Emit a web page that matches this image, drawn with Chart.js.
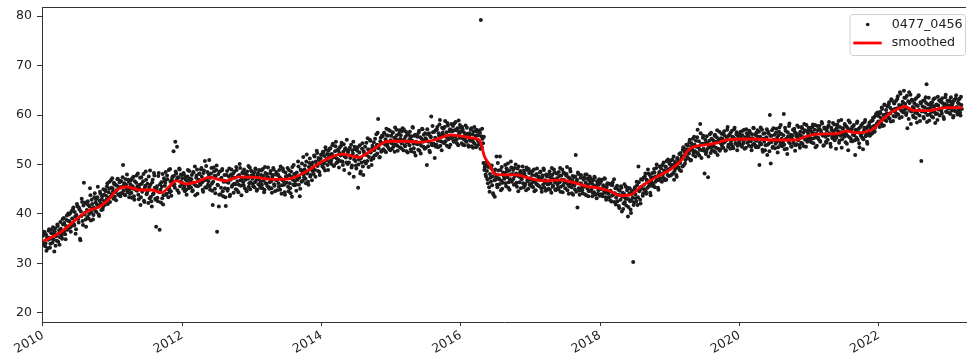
<!DOCTYPE html>
<html><head><meta charset="utf-8">
<script src="https://cdn.jsdelivr.net/npm/chart.js@4/dist/chart.umd.min.js"></script>
<style>html,body{margin:0;padding:0;background:#fff;overflow:hidden}canvas{display:block}</style>
</head><body>
<canvas id="c" width="970" height="363"></canvas>
<script>
const seriesLabel = "0477_0456";
const smoothLabel = "smoothed";
const xTicks = [2010, 2012, 2014, 2016, 2018, 2020, 2022];
const yTicks = [20, 30, 40, 50, 60, 70, 80];
const pointsPerYear = 80;

// first set of readings per year
const v2010 = [35.6,33.9,36.2,34.1,32.6,35.3,34.8,36.9,33.2,35.0,
 36.8,34.2,35.9,32.4,37.1,35.5,34.6,37.6,36.0,33.8,
 38.4,36.1,35.0,37.9,39.2,36.6,34.9,38.8,37.3,40.1,
 39.9,37.2,36.4,40.6,38.1,41.3,37.7,39.5,36.9,42.0,
 41.5,38.3,40.9,34.7,39.6,42.4,37.8,46.3,40.2,38.9,
 42.1,39.4,41.8,40.0,45.2,38.7,42.9,41.1,39.8,43.4,
 40.6,43.0,41.9,45.5,39.9,42.7,44.1,40.8,43.6,41.4,
 43.9,41.8,44.6,42.9,46.2,43.3,45.1,42.4,46.8,44.0];
const v2011 = [45.2,43.1,46.0,44.4,42.8,45.7,47.1,44.0,46.4,43.6,
 46.6,44.2,49.9,45.8,43.9,47.0,45.1,44.6,46.9,43.4,
 44.1,46.8,43.3,45.6,47.5,42.9,45.0,46.3,44.7,48.2,
 43.0,45.9,41.8,47.4,44.5,46.6,42.7,45.3,48.6,44.0,
 46.1,42.2,45.4,48.8,43.5,41.5,46.9,44.2,47.8,43.1,
 37.4,45.6,42.6,48.3,36.8,44.9,46.4,43.2,41.9,47.2,
 45.7,48.5,44.1,47.0,43.4,45.2,49.1,44.6,46.8,47.6,
 52.7,46.0,54.6,48.2,53.6,47.4,44.3,49.0,46.5,47.9];
const v2012 = [47.2,45.1,48.0,44.6,46.9,43.9,47.6,45.8,48.7,46.2,
 45.4,47.9,44.8,48.4,46.0,43.8,47.3,49.0,45.6,46.9,
 48.1,45.9,49.3,46.4,44.5,48.8,50.7,47.0,45.3,48.5,
 46.6,50.9,44.9,48.2,46.1,41.8,49.4,47.7,44.2,48.9,
 36.4,45.8,41.5,48.6,44.0,47.3,49.1,43.6,46.7,45.2,
 41.6,47.9,44.7,46.3,49.2,43.9,48.0,45.5,47.4,44.3,
 48.6,46.0,49.5,44.8,47.7,45.9,50.1,46.8,43.8,48.3,
 46.4,49.0,45.2,48.1,44.6,47.8,49.7,46.2,45.0,48.8];
const v2013 = [48.6,46.1,47.9,45.4,49.2,46.8,44.9,48.3,47.0,45.8,
 46.5,48.8,45.2,47.7,44.4,49.5,46.2,48.1,45.6,47.3,
 45.1,48.2,46.6,44.3,47.9,49.0,45.7,46.9,48.5,44.8,
 48.0,45.5,47.4,49.6,44.1,46.8,48.7,45.9,43.9,47.6,
 46.3,49.3,44.6,47.9,45.2,48.6,43.5,46.9,49.9,45.8,
 48.1,44.7,47.2,50.6,45.9,43.6,49.0,46.5,48.6,51.5,
 47.4,49.8,46.2,52.0,48.5,45.9,50.3,47.6,49.2,46.8,
 50.4,48.1,51.6,47.5,49.9,52.3,48.7,50.9,47.9,51.2];
const v2014 = [51.9,49.6,52.4,50.2,48.8,53.0,51.1,49.9,52.8,50.5,
 53.3,50.8,52.1,54.2,49.7,51.6,53.7,50.3,52.9,51.0,
 49.4,53.5,51.8,54.4,50.6,52.6,48.9,53.1,51.4,55.0,
 50.1,52.9,48.2,51.3,54.0,49.8,52.2,47.5,53.6,50.7,
 49.2,52.8,45.3,51.0,53.9,48.6,50.4,54.3,47.9,52.1,
 53.6,50.2,51.9,55.3,49.5,52.7,54.8,50.9,53.2,51.4,
 54.5,51.8,53.4,56.1,52.2,59.2,53.9,51.5,55.4,52.8,
 55.7,53.1,56.4,54.0,52.5,55.9,53.6,57.0,54.6,52.9];
const v2015 = [55.8,53.2,56.4,54.1,52.6,55.3,57.0,53.8,54.9,56.2,
 53.5,55.9,54.3,57.3,52.9,55.1,53.7,56.6,54.5,52.4,
 56.0,53.9,55.4,52.7,54.8,57.4,53.3,55.8,51.8,54.2,
 55.6,53.0,56.8,54.4,52.2,55.2,57.1,53.6,54.9,56.3,
 53.4,49.9,56.1,54.6,52.8,55.7,59.7,53.9,56.5,54.2,
 51.3,56.9,54.0,57.6,53.5,55.8,59.0,54.7,52.9,56.4,
 57.2,54.3,58.8,55.6,53.8,57.9,55.1,56.7,54.0,58.2,
 55.3,57.8,54.6,56.9,58.6,55.0,57.3,53.9,56.2,58.0];
const v2016 = [56.6,54.3,57.1,55.2,53.9,56.0,54.7,57.4,55.5,53.6,
 56.3,54.8,57.3,55.0,53.4,56.7,54.2,55.8,57.0,53.8,
 55.9,54.1,56.4,79.2,53.5,55.2,50.3,48.9,49.8,47.6,
 48.7,46.2,50.1,44.5,47.3,49.2,45.8,44.2,48.4,43.5,
 46.9,51.6,45.4,48.8,47.0,51.6,44.8,49.5,46.3,48.2,
 47.1,49.9,45.6,48.6,50.2,46.4,44.9,48.0,49.4,46.8,
 48.9,45.9,47.7,50.0,46.3,49.2,44.6,47.5,48.4,45.2,
 47.0,49.6,45.4,48.2,46.1,44.8,48.9,46.6,49.1,45.9];
const v2017 = [48.5,46.2,47.9,45.4,49.0,46.6,44.8,48.1,45.9,47.4,
 45.6,48.4,46.9,44.5,47.8,49.2,45.3,46.8,48.0,44.9,
 47.6,45.1,48.6,46.2,44.3,47.9,45.7,49.0,46.4,44.8,
 48.2,46.0,45.0,47.7,49.3,45.5,46.9,44.4,48.4,46.3,
 45.2,47.8,49.5,46.0,44.1,47.2,48.6,45.4,46.8,43.9,
 47.4,45.0,51.9,46.6,41.3,48.1,44.7,46.2,47.9,45.3,
 44.2,46.9,45.5,48.0,43.8,47.1,45.9,44.6,47.6,46.3,
 45.0,43.6,46.8,44.4,47.3,45.6,43.2,46.1,44.8,47.0];
const v2018 = [46.3,44.0,46.9,43.6,45.5,47.2,44.3,42.9,45.9,44.6,
 43.4,46.1,44.7,42.5,45.8,43.9,47.0,44.2,41.9,45.3,
 42.6,44.9,41.2,43.8,45.6,40.5,44.3,42.1,46.0,43.2,
 41.7,44.8,39.5,43.0,45.2,40.9,42.8,44.1,30.3,42.3,
 45.4,43.2,46.5,41.8,49.6,44.6,42.9,47.0,45.1,43.7,
 47.3,45.0,48.2,44.1,46.7,49.0,45.6,47.9,43.8,46.4,
 48.3,46.0,49.1,45.4,47.6,50.0,46.8,44.9,48.5,47.2,
 49.2,46.5,48.0,50.4,47.1,49.6,46.9,48.7,51.0,47.7];
const v2019 = [50.1,47.8,49.6,51.0,48.3,46.9,50.5,49.2,47.5,51.3,
 49.4,52.1,50.3,48.7,51.6,53.0,49.8,52.6,50.9,54.0,
 51.5,53.8,52.2,55.0,50.8,54.3,53.1,51.9,55.6,52.7,
 54.8,52.4,57.0,53.5,51.8,58.2,54.1,52.9,55.4,53.2,
 48.2,55.0,52.6,54.4,47.4,53.8,56.1,52.3,55.2,53.6,
 54.9,52.7,56.0,53.4,55.5,51.9,54.6,56.6,53.1,55.3,
 53.8,56.2,54.4,55.9,52.8,54.9,57.0,53.6,55.8,54.1,
 56.4,54.0,55.6,53.3,57.1,55.0,54.2,56.5,53.8,55.9];
const v2020 = [56.2,54.0,55.7,53.6,56.8,54.9,53.2,55.5,57.1,54.4,
 55.9,53.8,56.5,54.7,52.9,55.3,57.4,54.2,56.0,53.5,
 54.8,56.9,53.7,49.9,55.6,54.1,57.0,52.6,55.2,56.3,
 53.9,55.5,51.9,56.6,54.3,60.0,50.2,55.8,53.4,57.3,
 55.0,53.3,56.4,54.6,52.4,55.9,57.5,54.0,56.2,53.7,
 54.5,60.2,53.1,56.8,55.2,52.1,55.7,57.8,54.3,56.0,
 53.6,55.9,54.8,57.2,52.8,56.3,54.1,55.4,57.6,53.9,
 56.6,54.4,57.3,55.5,53.7,56.9,55.1,58.0,54.6,56.2];
const v2021 = [57.0,54.9,56.8,55.2,57.6,54.3,56.1,58.0,55.5,53.8,
 56.9,55.1,57.8,54.6,56.4,58.3,55.8,53.9,57.2,55.6,
 54.4,57.5,55.9,58.6,56.2,53.6,57.0,55.3,56.7,58.1,
 55.7,53.2,57.4,56.0,58.8,54.8,56.5,59.0,55.1,57.3,
 56.3,58.2,54.5,57.7,55.8,52.9,56.9,58.5,55.2,57.1,
 54.7,57.8,55.9,51.9,56.6,58.4,55.0,57.2,53.5,56.2,
 57.9,55.4,53.1,56.8,58.6,55.7,57.3,54.2,56.4,58.0,
 55.8,57.6,56.2,58.9,56.9,59.6,57.4,60.2,58.3,59.9];
const v2022 = [59.8,57.6,60.4,58.3,61.2,59.1,57.9,62.0,60.1,58.8,
 61.7,59.5,62.6,60.3,58.7,63.0,61.0,59.8,62.3,60.6,
 62.9,60.2,63.8,61.4,59.4,64.3,61.9,60.7,62.5,64.9,
 61.1,63.5,60.4,57.3,62.8,64.6,60.9,58.2,63.1,61.6,
 59.6,62.3,60.5,63.4,58.5,61.8,64.0,59.9,62.6,50.7,
 60.8,62.9,59.3,61.5,63.6,66.2,60.0,62.1,58.9,61.3,
 62.4,59.7,61.8,63.2,60.6,58.4,62.0,60.3,63.7,61.1,
 59.9,62.7,60.8,63.4,61.5,59.2,62.2,64.1,60.6,62.9];
const v2023 = [62.8,60.4,61.9,63.6,60.9,62.3,59.8,63.1,61.4,64.0,60.6,62.5,61.0,63.3,59.9,62.0];

// second set of readings per year (between the first ones)
const w2010 = [34.2,36.4,33.5,35.8,34.9,33.1,36.6,35.2,34.0,36.1,
 35.1,37.3,34.8,36.5,33.6,35.8,37.9,34.4,36.7,35.3,
 37.0,35.6,39.0,36.3,38.2,35.9,37.6,39.7,36.8,38.6,
 38.5,40.2,37.5,39.1,41.0,38.0,40.4,36.0,39.8,41.6,
 39.0,41.2,35.0,40.5,43.1,38.6,41.7,39.9,42.3,37.4,
 40.8,42.6,39.1,41.5,43.8,40.3,42.0,38.9,41.3,44.2,
 42.3,40.4,43.4,41.6,39.6,44.5,42.1,43.0,40.9,45.0,
 42.6,44.9,43.7,45.6,42.0,44.4,46.5,43.5,45.3,47.2];
const w2011 = [44.6,46.3,43.5,45.9,44.8,47.0,43.9,45.4,46.7,44.2,
 45.5,47.4,44.7,46.2,43.8,45.9,48.0,44.4,46.5,45.0,
 46.0,44.3,47.2,45.1,43.6,46.6,44.9,47.8,45.6,43.9,
 45.2,47.3,43.4,46.1,44.8,48.1,42.4,45.7,46.9,44.3,
 44.7,47.6,43.2,45.9,42.6,46.4,44.0,48.3,45.3,42.9,
 45.1,43.3,47.7,44.4,46.0,42.3,45.5,48.1,43.8,46.7,
 46.3,43.9,47.8,45.0,48.9,44.4,46.5,43.7,47.3,45.8,
 47.7,45.3,48.6,46.9,44.8,47.3,49.2,45.6,48.0,46.4];
const w2012 = [46.0,48.3,45.5,47.4,44.9,46.7,48.9,45.2,47.1,46.4,
 47.0,44.6,48.5,46.3,49.6,45.7,47.8,44.1,46.8,48.2,
 46.2,49.0,47.5,44.9,48.3,46.8,45.4,49.7,47.2,45.9,
 48.0,45.6,47.3,49.3,44.7,46.5,48.6,45.1,47.7,49.8,
 45.9,48.1,43.9,47.0,45.3,48.8,44.6,46.5,47.9,43.4,
 46.5,48.7,45.1,47.6,43.6,46.9,49.0,45.8,48.2,46.1,
 47.3,45.0,48.9,46.6,44.4,47.9,49.3,45.7,47.0,48.5,
 45.8,48.2,46.9,44.9,48.6,47.1,45.5,49.4,46.4,47.8];
const w2013 = [47.1,45.6,48.4,46.4,49.0,44.7,47.8,46.0,48.9,45.3,
 47.9,45.9,49.1,46.7,44.9,48.3,46.1,47.5,49.4,45.4,
 46.4,48.7,45.2,47.6,49.3,46.0,44.6,48.0,46.8,47.9,
 46.2,48.9,44.9,47.1,45.8,49.2,46.6,44.4,48.4,47.3,
 47.7,45.5,48.9,46.2,44.2,47.5,49.5,45.9,48.1,46.6,
 45.9,48.4,46.9,49.6,47.3,45.1,48.8,50.2,46.7,48.0,
 49.0,47.1,50.6,48.2,46.5,49.5,51.2,47.9,50.0,48.7,
 49.3,51.8,48.9,50.6,52.8,49.7,51.3,48.5,50.2,52.0];
const w2014 = [50.4,52.6,49.3,51.7,53.5,50.8,52.1,48.9,51.5,53.2,
 52.0,50.1,53.9,51.4,49.8,52.7,54.6,51.2,50.5,53.0,
 52.3,50.7,53.8,52.0,49.9,54.1,51.6,53.3,50.4,52.8,
 52.5,50.4,53.4,51.7,49.4,52.9,54.6,51.0,53.1,49.8,
 51.7,53.5,50.0,52.4,48.2,51.3,53.2,49.6,52.7,50.6,
 52.0,54.4,50.7,53.1,51.5,55.0,52.4,49.9,53.8,51.2,
 52.9,55.2,51.9,54.0,56.4,53.3,51.4,54.7,52.6,55.8,
 54.3,56.2,52.8,55.1,57.2,54.0,55.8,53.2,56.8,54.9];
const w2015 = [54.3,56.5,53.6,55.4,57.5,54.0,55.9,52.8,54.7,56.9,
 55.2,53.3,56.7,54.8,57.1,53.9,55.6,52.7,56.1,54.4,
 54.9,56.6,53.1,55.7,57.6,54.2,52.4,56.0,54.6,55.9,
 54.1,56.4,52.8,55.5,53.8,57.2,54.6,56.0,53.2,55.3,
 55.0,57.1,53.7,56.3,52.5,55.5,54.2,57.8,53.9,56.6,
 55.4,53.6,57.0,54.8,56.3,58.1,53.8,55.9,57.4,54.5,
 55.9,57.6,54.7,56.5,58.4,55.3,53.5,57.1,55.8,56.9,
 56.7,54.8,58.3,55.6,57.0,54.3,56.8,58.9,55.4,57.5];
const w2016 = [55.4,57.6,54.0,56.5,55.0,57.9,54.6,56.2,53.9,55.8,
 55.0,57.0,53.7,56.1,54.5,57.6,55.3,53.5,56.6,54.9,
 54.7,56.9,53.2,55.7,57.2,54.3,55.6,49.4,48.0,50.5,
 47.0,49.5,45.4,48.1,46.5,49.8,47.6,43.9,46.8,49.0,
 47.5,45.9,50.3,47.2,46.0,48.9,46.7,45.1,48.4,47.6,
 48.3,46.2,49.2,47.4,45.3,48.8,47.0,50.6,46.5,48.1,
 47.1,49.3,46.0,48.2,45.5,47.8,49.6,46.4,48.7,47.3,
 48.1,46.2,48.8,45.7,47.6,49.4,46.8,45.1,48.3,47.2];
const w2017 = [47.0,45.6,48.7,46.5,44.6,47.8,46.1,49.2,45.8,47.5,
 46.8,48.6,45.2,47.4,45.9,48.9,46.3,44.7,47.7,46.0,
 46.0,48.1,44.9,47.3,49.3,45.5,47.0,48.4,45.0,46.7,
 47.2,45.3,48.5,46.4,44.5,47.8,49.0,45.8,46.9,48.2,
 46.5,48.1,44.8,47.4,45.6,49.1,46.2,44.2,47.7,45.9,
 45.8,47.6,44.5,46.9,48.4,45.2,43.9,47.3,46.1,44.8,
 45.6,47.4,44.0,46.3,48.0,45.1,43.6,46.8,44.7,47.1,
 46.2,44.3,45.8,47.5,43.9,45.4,46.6,44.1,45.9,43.7];
const w2018 = [45.0,46.7,43.9,45.8,44.5,47.1,43.4,45.4,46.2,44.1,
 44.5,42.8,45.9,43.7,46.4,44.0,42.4,45.2,43.3,45.7,
 43.9,41.6,44.7,42.9,45.3,43.5,41.0,44.1,42.4,45.5,
 43.1,45.3,41.4,44.2,42.6,40.2,44.7,43.3,41.8,45.0,
 44.0,42.5,45.8,43.4,46.4,44.9,42.1,45.5,46.9,44.2,
 45.9,47.6,44.6,46.9,45.3,48.2,46.1,44.3,47.3,45.7,
 47.4,45.6,48.4,46.5,49.3,47.0,45.3,48.0,49.6,46.7,
 48.1,49.9,47.3,48.8,46.8,49.5,50.7,47.9,49.0,50.3];
const w2019 = [49.2,50.8,48.0,49.9,51.6,48.7,50.2,47.9,51.1,49.5,
 50.7,48.9,52.3,51.2,49.6,53.5,51.8,50.2,53.1,52.4,
 53.0,51.2,54.5,52.9,50.9,53.7,55.2,52.5,54.0,51.6,
 53.6,55.5,52.2,54.7,53.0,56.3,51.3,54.2,55.8,52.8,
 54.3,52.1,55.7,53.2,51.6,54.8,53.5,56.4,52.9,54.1,
 53.7,55.8,52.5,54.6,56.9,53.2,55.1,52.8,54.3,56.2,
 55.2,53.4,56.7,54.6,52.9,55.5,57.6,54.0,56.0,53.2,
 54.7,56.8,53.6,55.4,57.4,54.3,56.1,52.9,55.7,54.5];
const w2020 = [54.8,56.6,53.9,55.9,54.3,57.0,55.2,53.4,56.3,55.6,
 54.6,56.8,55.3,53.6,56.1,54.0,57.3,55.0,53.8,56.4,
 55.7,53.5,56.6,54.4,57.5,55.1,53.0,56.2,54.6,52.9,
 55.3,57.1,54.0,56.3,52.7,55.8,54.5,56.9,53.6,55.0,
 56.0,54.2,57.2,55.4,53.5,56.6,54.7,58.0,55.2,53.9,
 55.9,54.0,57.4,55.1,53.2,56.5,54.6,58.3,55.5,53.7,
 55.2,57.0,54.3,56.6,53.9,55.7,57.9,54.9,56.1,53.4,
 55.8,57.6,54.2,56.4,58.2,55.0,53.6,56.7,55.3,57.4];
const w2021 = [55.6,57.4,54.5,56.5,58.1,55.3,57.0,53.5,56.2,57.8,
 55.4,57.1,54.8,56.9,58.6,55.9,53.8,57.5,56.1,54.6,
 56.8,55.0,57.9,56.3,54.2,57.4,55.6,58.4,56.0,54.9,
 57.0,55.4,58.1,56.7,54.4,57.6,55.8,53.4,57.2,56.1,
 55.6,57.9,56.2,54.2,57.3,58.9,55.5,56.8,54.7,57.6,
 56.0,58.0,54.9,57.0,55.4,58.7,56.5,54.3,57.5,55.8,
 56.2,58.3,55.1,57.4,59.0,56.0,54.6,57.7,55.9,58.5,
 57.0,58.8,56.3,59.4,57.8,56.6,59.9,58.1,60.5,58.7];
const w2022 = [58.3,60.6,59.4,61.5,57.8,60.0,62.1,59.0,61.0,60.3,
 60.2,62.1,59.3,61.4,63.2,60.8,58.8,62.4,61.2,59.7,
 61.3,63.3,60.1,62.0,64.6,61.0,59.6,62.7,60.5,63.5,
 62.2,60.0,63.9,61.3,59.2,62.4,64.1,60.7,62.9,59.9,
 61.4,63.1,59.4,62.0,60.3,63.8,61.0,58.8,62.3,60.7,
 61.7,59.6,63.0,60.5,62.4,58.6,61.2,63.5,60.1,62.0,
 60.6,62.6,59.5,61.6,63.4,60.2,62.1,59.0,61.9,63.0,
 61.2,63.0,60.3,62.4,59.6,61.8,63.6,60.7,62.0,61.4];
const w2023 = [61.3,63.0,60.2,62.6,61.7,59.5,62.9,60.8,63.4,61.6,60.1,63.1,62.2,60.5,63.7,61.2];

const smoothX = [2010.0,2010.24,2010.53,2010.67,2010.79,2010.96,2011.05,2011.2,2011.39,2011.57,2011.7,2011.81,2011.91,2012.05,2012.21,2012.39,2012.62,2012.81,2013.05,2013.29,2013.53,2013.77,2014.05,2014.29,2014.39,2014.53,2014.72,2014.96,2015.2,2015.39,2015.62,2015.86,2016.15,2016.27,2016.34,2016.41,2016.48,2016.6,2016.81,2016.96,2017.2,2017.43,2017.58,2017.81,2018.0,2018.15,2018.29,2018.43,2018.58,2018.67,2018.81,2019.0,2019.15,2019.29,2019.48,2019.67,2019.81,2020.19,2020.53,2020.81,2020.96,2021.1,2021.43,2021.53,2021.67,2021.91,2022.05,2022.2,2022.39,2022.48,2022.72,2022.96,2023.2];
const smoothY = [34.5,36.2,39.5,40.8,41.3,43.2,44.7,45.5,44.85,44.85,44.3,45.5,46.7,46.1,46.5,47.4,46.7,47.5,47.4,47.0,47.1,48.5,50.9,52.1,51.9,51.45,52.9,54.7,54.7,54.5,54.95,56.0,55.4,54.9,51.6,50.0,48.2,47.9,47.9,47.3,46.7,46.9,46.5,45.6,45.2,44.6,43.7,43.8,45.5,46.3,47.5,48.9,50.6,53.2,53.9,54.3,54.95,55.15,54.95,54.95,55.7,56.1,56.3,56.8,56.4,57.1,59.0,60.7,61.7,61.0,60.9,61.5,61.5];

const yearly = [[2010,v2010,w2010],[2011,v2011,w2011],[2012,v2012,w2012],[2013,v2013,w2013],[2014,v2014,w2014],[2015,v2015,w2015],[2016,v2016,w2016],[2017,v2017,w2017],[2018,v2018,w2018],[2019,v2019,w2019],[2020,v2020,w2020],[2021,v2021,w2021],[2022,v2022,w2022],[2023,v2023,w2023]];
const scatterPts = yearly.flatMap(([yr, a, b]) => [
  ...a.map((v, i) => ({x: yr + i / pointsPerYear, y: v})),
  ...b.map((v, i) => ({x: yr + (i + 0.5) / pointsPerYear, y: v}))
]);
const smoothPts = smoothX.map((x, i) => ({x, y: smoothY[i]}));

Chart.defaults.font.family = '"DejaVu Sans", sans-serif';
Chart.defaults.font.size = 12;
Chart.defaults.color = '#222';

const frameAndLegend = {
  id: 'frameAndLegend',
  afterDraw(chart) {
    const {ctx, chartArea: a} = chart;
    ctx.save();
    ctx.strokeStyle = '#333';
    ctx.lineWidth = 1;
    ctx.beginPath();
    ctx.moveTo(a.left, a.top + 0.5);
    ctx.lineTo(a.right, a.top + 0.5);
    ctx.stroke();
    const right = a.right - 1, top = a.top + 7, w = 115.5, h = 41;
    const left = right - w;
    ctx.beginPath();
    ctx.roundRect(left + 0.5, top + 0.5, w, h, 3);
    ctx.fillStyle = 'rgba(255,255,255,0.85)';
    ctx.fill();
    ctx.strokeStyle = '#d0d0d0';
    ctx.stroke();
    const ds = chart.data.datasets;
    const sc = ds.find(d => d.label === seriesLabel);
    const sm = ds.find(d => d.label === smoothLabel);
    ctx.fillStyle = sc.backgroundColor;
    ctx.beginPath();
    ctx.arc(left + 18.2, top + 10.5, 1.8, 0, Math.PI * 2);
    ctx.fill();
    ctx.strokeStyle = sm.borderColor;
    ctx.lineWidth = sm.borderWidth;
    ctx.beginPath();
    ctx.moveTo(left + 3.8, top + 29);
    ctx.lineTo(left + 32.2, top + 29);
    ctx.stroke();
    ctx.font = '12.7px "DejaVu Sans"';
    ctx.fillStyle = '#222';
    ctx.textBaseline = 'middle';
    ctx.textAlign = 'left';
    ctx.fillText(sc.label, left + 42.2, top + 10.5);
    ctx.fillText(sm.label, left + 42.2, top + 29);
    ctx.restore();
  }
};

new Chart(document.getElementById('c'), {
  type: 'scatter',
  data: {
    datasets: [
      {label: smoothLabel, data: smoothPts, showLine: true, borderColor: '#ff0000', backgroundColor: '#ff0000', borderWidth: 2.8, pointRadius: 0, cubicInterpolationMode: 'monotone', order: 0},
      {label: seriesLabel, data: scatterPts, backgroundColor: '#1c1c1c', borderWidth: 0, pointRadius: 2.0, order: 1}
    ]
  },
  options: {
    responsive: false,
    animation: false,
    devicePixelRatio: 1,
    layout: {padding: {top: 7, left: 0, right: 0, bottom: 0}},
    plugins: {legend: {display: false}, tooltip: {enabled: false}},
    scales: {
      x: {
        type: 'linear', position: 'bottom', min: 2009.986, max: 2023.254,
        grid: {drawOnChartArea: false, drawTicks: true, tickLength: 4, tickColor: '#333'},
        border: {display: true, color: '#333', width: 1},
        ticks: {minRotation: 30, maxRotation: 30, autoSkip: false, padding: 2, font: {size: 12.5}, callback: v => String(v)},
        afterBuildTicks: s => { s.ticks = xTicks.map(v => ({value: v})); },
        afterFit: s => { s.height = 41; s.paddingLeft = 0; s.paddingRight = 0; }
      },
      y: {
        type: 'linear', position: 'left', min: 18.18, max: 81.82,
        grid: {drawOnChartArea: false, drawTicks: true, tickLength: 5, tickColor: '#333'},
        border: {display: true, color: '#333', width: 1},
        ticks: {padding: 5, font: {size: 12.5}, callback: v => String(v)},
        afterBuildTicks: s => { s.ticks = yTicks.map(v => ({value: v})); },
        afterFit: s => { s.width = 42; s.paddingTop = 0; s.paddingBottom = 0; }
      }
    }
  },
  plugins: [frameAndLegend]
});
</script>
</body></html>
